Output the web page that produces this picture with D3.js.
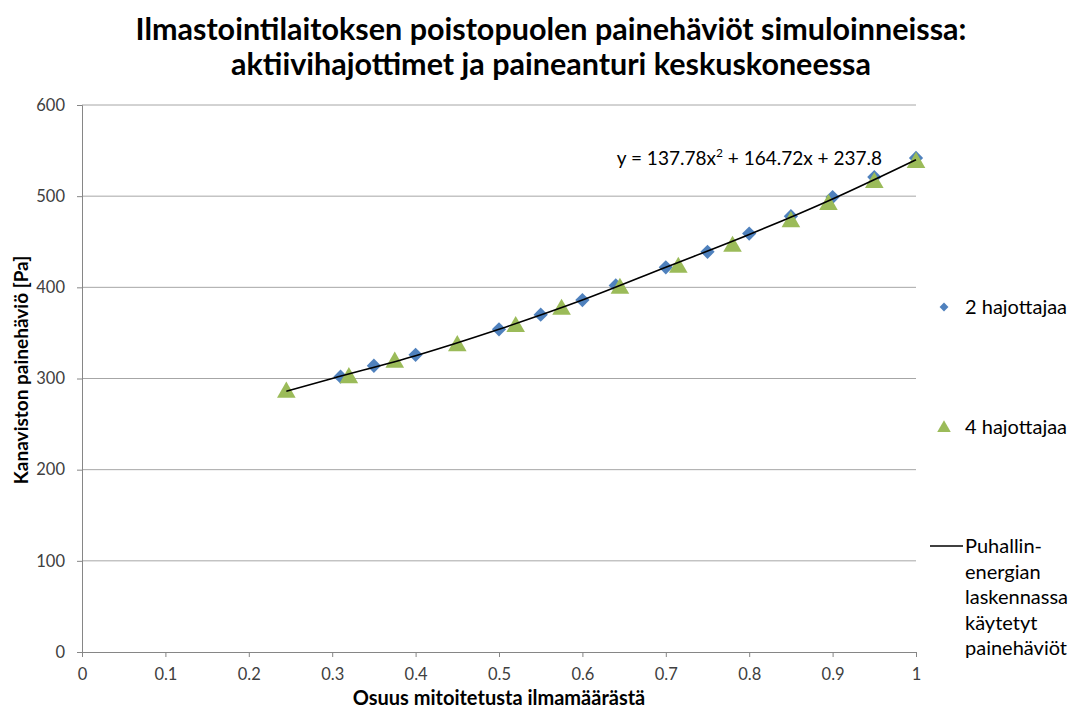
<!DOCTYPE html>
<html>
<head>
<meta charset="utf-8">
<script src="https://cdn.jsdelivr.net/npm/d3@7"></script>
<style>
  body { margin: 0; background: #fff; }
  svg { font-family: Lato, "Open Sans", sans-serif; }
</style>
</head>
<body>
<svg id="chart" width="1074" height="713"></svg>
<script>
var titleLines = ["Ilmastointilaitoksen poistopuolen painehäviöt simuloinneissa:", "aktiivihajottimet ja paineanturi keskuskoneessa"];

var xTicks = [0, 0.1, 0.2, 0.3, 0.4, 0.5, 0.6, 0.7, 0.8, 0.9, 1];
var yTicks = [0, 100, 200, 300, 400, 500, 600];

// 2 hajottajaa
var blueX = [0.31, 0.35, 0.40, 0.50, 0.55, 0.60, 0.64, 0.70, 0.75, 0.80, 0.85, 0.90, 0.95, 1.00];
var blueY = [302, 314, 326, 354, 370, 386, 402, 422, 439, 459, 478, 499, 521, 542];

// 4 hajottajaa
var greenX = [0.245, 0.32, 0.375, 0.45, 0.52, 0.575, 0.645, 0.715, 0.78, 0.85, 0.895, 0.95, 1.00];
var greenY = [287, 303, 320, 338, 359, 378, 401, 424, 447, 474, 493, 517, 539];

// trend line used in fan energy calculation
var lineX = [0.245, 0.3, 0.4, 0.5, 0.6, 0.7, 0.8, 0.9, 1.0];
var lineY = [286, 300, 325, 354, 386, 422, 458, 497, 540];

var equation = "y = 137.78x";
var legendNames = ["2 hajottajaa", "4 hajottajaa"];
var lineLegend = ["Puhallin-", "energian", "laskennassa", "käytetyt", "painehäviöt"];

var svg = d3.select("#chart");
var x = d3.scaleLinear().domain([0, 1]).range([82, 916]);
var y = d3.scaleLinear().domain([0, 600]).range([652, 105]);

var title = svg.append("text")
  .attr("text-anchor", "middle")
  .attr("font-size", 30.5)
  .attr("font-weight", "bold")
  .attr("fill", "#000");
titleLines.forEach(function (t, i) {
  title.append("tspan").attr("x", 551).attr("y", 40 + i * 35).text(t);
});

// grid
svg.append("g").selectAll("line").data(yTicks.slice(1)).enter().append("line")
  .attr("x1", x(0)).attr("x2", x(1))
  .attr("y1", function (d) {return y(d);}).attr("y2", function (d) {return y(d);})
  .attr("stroke", "#a6a6a6").attr("stroke-width", 1);

var yAxis = svg.append("g").attr("transform", "translate(" + x(0) + ",0)")
  .call(d3.axisLeft(y).tickValues(yTicks).tickSize(5).tickPadding(12));
var xAxis = svg.append("g").attr("transform", "translate(0," + y(0) + ")")
  .call(d3.axisBottom(x).tickValues(xTicks).tickSize(5).tickPadding(11).tickFormat(function (d) {return d;}));

[xAxis, yAxis].forEach(function (a) {
  a.select(".domain").attr("stroke", "#868686");
  a.selectAll(".tick line").attr("stroke", "#868686");
  a.selectAll(".tick text").attr("font-size", 16.5).attr("fill", "#404040")
    .attr("font-family", "Lato, 'Open Sans', sans-serif");
});

svg.append("text").attr("x", 499).attr("y", 705).attr("text-anchor", "middle")
  .attr("font-size", 20).attr("font-weight", "bold").text("Osuus mitoitetusta ilmamäärästä");
svg.append("text").attr("transform", "translate(28,370) rotate(-90)").attr("text-anchor", "middle")
  .attr("font-size", 19).attr("font-weight", "bold").text("Kanaviston painehäviö [Pa]");

var blue = "#4f81bd", green = "#9bbb59";
var diamond = d3.symbol().type(d3.symbolDiamond2).size(130);
var triangle = d3.symbol().type(d3.symbolTriangle).size(150);

svg.append("g").selectAll("path").data(blueX).enter().append("path")
  .attr("d", diamond)
  .attr("transform", function (d, i) {return "translate(" + x(d) + "," + y(blueY[i]) + ")";})
  .attr("fill", blue);

// triangles centred on their box, not their centroid
svg.append("g").selectAll("path").data(greenX).enter().append("path")
  .attr("d", triangle)
  .attr("transform", function (d, i) {return "translate(" + x(d) + "," + (y(greenY[i]) + 2) + ")";})
  .attr("fill", green);

var line = d3.line()
  .x(function (d) {return x(d[0]);})
  .y(function (d) {return y(d[1]);})
  .curve(d3.curveMonotoneX);
svg.append("path").datum(d3.zip(lineX, lineY))
  .attr("d", line).attr("fill", "none").attr("stroke", "#000").attr("stroke-width", 1.6);

var eq = svg.append("text").attr("x", 882).attr("y", 165).attr("text-anchor", "end")
  .attr("font-size", 19).attr("fill", "#000");
eq.append("tspan").text(equation);
eq.append("tspan").attr("dy", -8).attr("font-size", 12).text("2");
eq.append("tspan").attr("dy", 8).text(" + 164.72x + 237.8");

// legend
var lg = svg.append("g").attr("font-size", 20).attr("fill", "#000");
lg.append("path").attr("d", d3.symbol().type(d3.symbolDiamond2).size(50))
  .attr("transform", "translate(944,307)").attr("fill", blue);
lg.append("text").attr("x", 965).attr("y", 314).text(legendNames[0]);
lg.append("path").attr("d", d3.symbol().type(d3.symbolTriangle).size(80))
  .attr("transform", "translate(944,428)").attr("fill", green);
lg.append("text").attr("x", 965).attr("y", 434).text(legendNames[1]);
lg.append("line").attr("x1", 930).attr("x2", 963).attr("y1", 546).attr("y2", 546)
  .attr("stroke", "#000").attr("stroke-width", 1.6);
lg.selectAll("text.ll").data(lineLegend).enter().append("text").attr("class", "ll")
  .attr("x", 965).attr("y", function (d, i) {return 553 + i * 25.5;}).text(function (d) {return d;});
</script>
</body>
</html>
